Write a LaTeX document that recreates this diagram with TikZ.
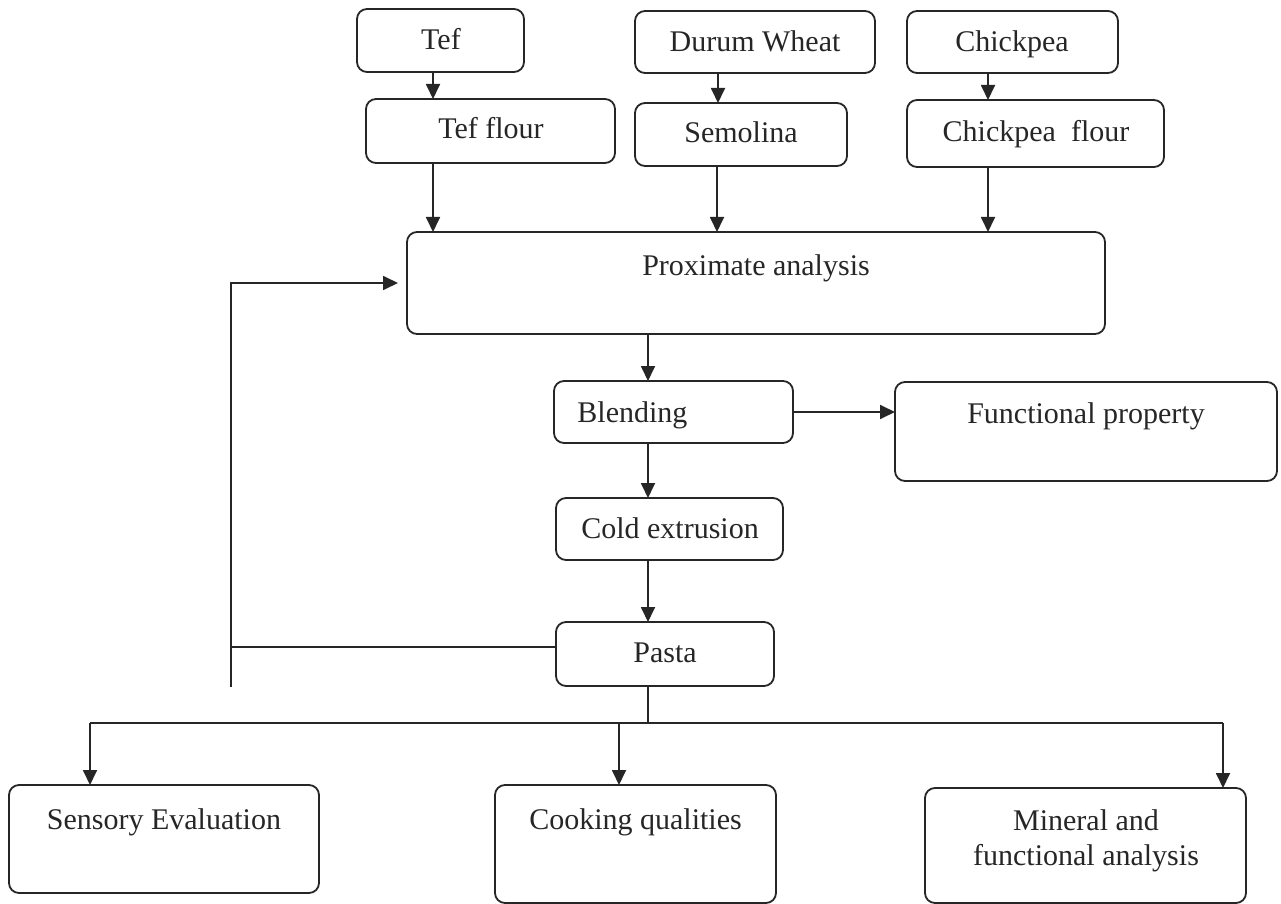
\documentclass[tikz,border=0pt]{standalone}
\usepackage{fontspec}
\setmainfont{Liberation Serif}
\usetikzlibrary{arrows.meta}
\definecolor{inkc}{HTML}{262626}
\begin{document}
\begin{tikzpicture}[x=0.5pt,y=-0.5pt,
  box/.style={draw=inkc, line width=0.9pt, rounded corners=5pt, inner sep=0pt, outer sep=0pt},
  txt/.style={inner sep=0pt, font=\fontsize{15}{17.5}\selectfont, anchor=base, text=inkc},
  arr/.style={-{Triangle[length=7.5pt,width=7pt]}, line width=0.9pt, draw=inkc},
  ln/.style={line width=0.9pt, draw=inkc}]
\useasboundingbox (0,0) rectangle (1281,904);
% boxes
\node[box, minimum width=83.5pt, minimum height=31.5pt] (tef) at (440.5,40.5) {};
\node[box, minimum width=124.5pt, minimum height=32pt] (tefflour) at (490.5,131) {};
\node[box, minimum width=120pt, minimum height=31pt] (durum) at (755,42) {};
\node[box, minimum width=106pt, minimum height=31.5pt] (semolina) at (741,134.5) {};
\node[box, minimum width=105.5pt, minimum height=31pt] (chick) at (1012.5,42) {};
\node[box, minimum width=128.5pt, minimum height=33.5pt] (chickflour) at (1035.5,133.5) {};
\node[box, minimum width=349pt, minimum height=51pt] (prox) at (756,283) {};
\node[box, minimum width=119.5pt, minimum height=31pt] (blend) at (673.5,412) {};
\node[box, minimum width=191pt, minimum height=49.5pt] (func) at (1086,431.5) {};
\node[box, minimum width=113.5pt, minimum height=31pt] (cold) at (669.5,529) {};
\node[box, minimum width=109pt, minimum height=32pt] (pasta) at (665,654) {};
\node[box, minimum width=155pt, minimum height=54pt] (sensory) at (164,839) {};
\node[box, minimum width=140.5pt, minimum height=59pt] (cooking) at (635.5,844) {};
\node[box, minimum width=160.5pt, minimum height=57.5pt] (mineral) at (1085.5,845.5) {};
% texts
\node[txt] (tTef) at (441,50) {Tef};
\node[txt] (tTefflour) at (491,139) {Tef flour};
\node[txt] (tDurum) at (755,52) {Durum Wheat};
\node[txt] (tSem) at (741,143) {Semolina};
\node[txt] (tChick) at (1012,52) {Chickpea};
\node[txt] (tChickflour) at (1036,142) {Chickpea\ \ flour};
\node[txt] (tProx) at (756,275) {Proximate analysis};
\node[txt, anchor=base west] (tBlend) at (577,422) {Blending};
\node[txt] (tFunc) at (1086,423) {Functional property};
\node[txt] (tCold) at (670,538) {Cold extrusion};
\node[txt] (tPasta) at (665,662) {Pasta};
\node[txt] (tSens) at (164,829) {Sensory Evaluation};
\node[txt] (tCook) at (635.5,829) {Cooking qualities};
\node[txt] (tMin1) at (1086,830) {Mineral and};
\node[txt] (tMin2) at (1086,865) {functional analysis};
% coordinates
\coordinate (fbend) at (231,687);
\coordinate (split) at (648,723);
% connectors
\draw[arr] (433,0 |- tef.south) -- (433,0 |- tefflour.north);
\draw[arr] (718,0 |- durum.south) -- (718,0 |- semolina.north);
\draw[arr] (988,0 |- chick.south) -- (988,0 |- chickflour.north);
\draw[arr] (433,0 |- tefflour.south) -- (433,0 |- prox.north);
\draw[arr] (717,0 |- semolina.south) -- (717,0 |- prox.north);
\draw[arr] (988,0 |- chickflour.south) -- (988,0 |- prox.north);
\draw[arr] (648,0 |- prox.south) -- (648,0 |- blend.north);
\draw[arr] (blend.east |- 0,412) -- (func.west |- 0,412);
\draw[arr] (648,0 |- blend.south) -- (648,0 |- cold.north);
\draw[arr] (648,0 |- cold.south) -- (648,0 |- pasta.north);
\draw[ln] (pasta.west |- 0,647) -- (231,647);
\draw[arr, shorten >=4.5pt] (fbend) -- (231,283) -- (prox.west |- 0,283);
\draw[ln] (648,0 |- pasta.south) -- (split);
\draw[ln] (90,723) -- (1223,723);
\draw[arr] (90,723) -- (90,0 |- sensory.north);
\draw[arr] (619,723) -- (619,0 |- cooking.north);
\draw[arr] (1223,723) -- (1223,0 |- mineral.north);
\end{tikzpicture}
\end{document}
